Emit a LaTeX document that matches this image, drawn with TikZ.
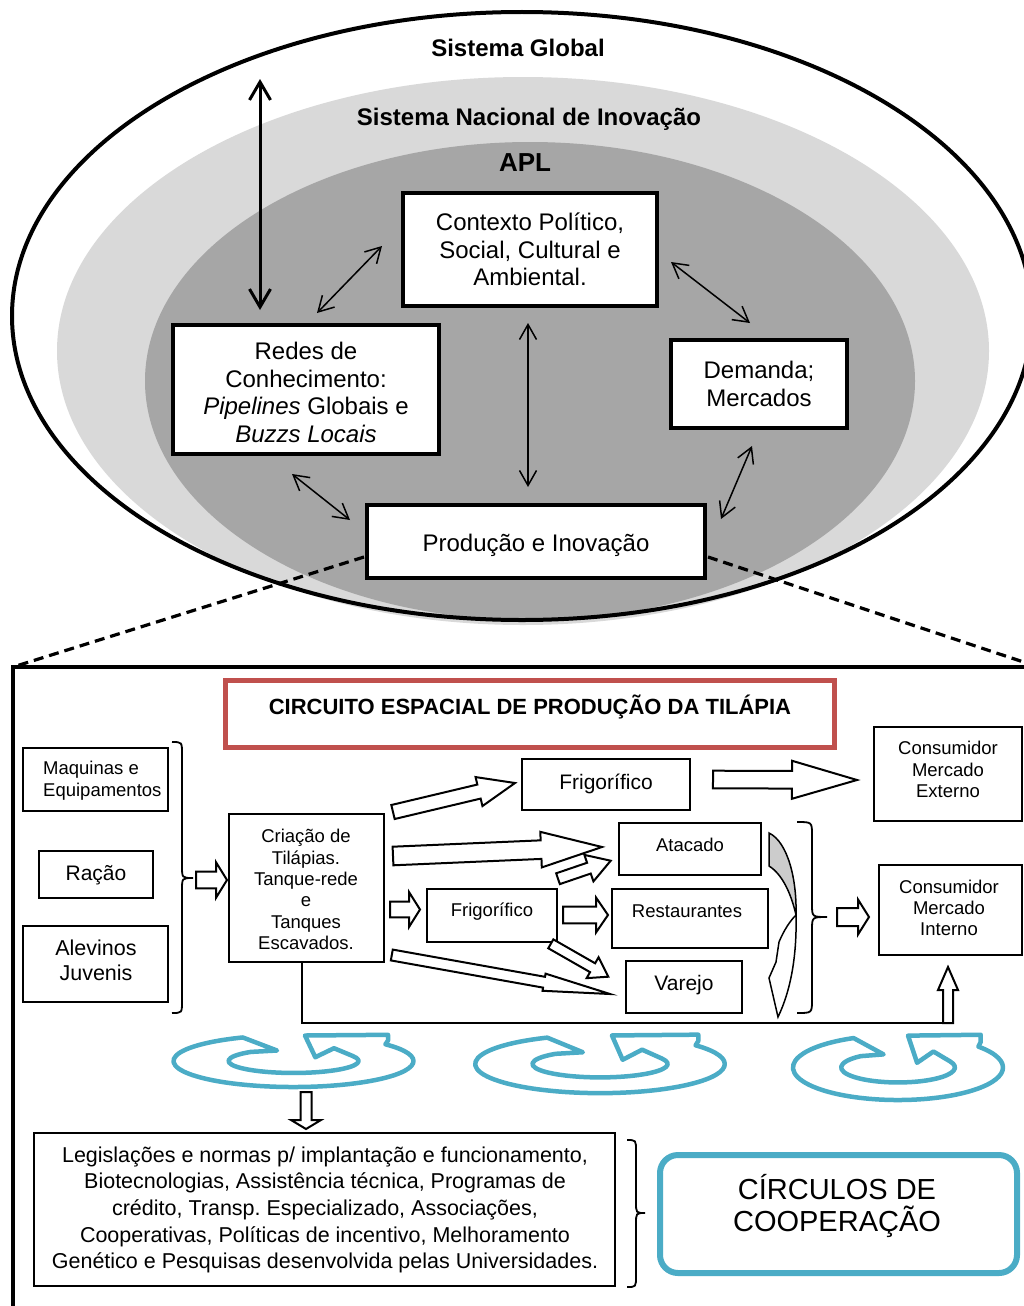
\documentclass[tikz,border=0pt]{standalone}
\usepackage{fontspec}
\setmainfont{Liberation Sans}
\usetikzlibrary{arrows.meta,calc}
\frenchspacing
\definecolor{lgray}{HTML}{D9D9D9}
\definecolor{dgray}{HTML}{A6A6A6}
\definecolor{redb}{HTML}{C0504D}
\definecolor{tealb}{HTML}{4BACC6}
\definecolor{cgray}{HTML}{CCCCCC}
\newcommand\fsz[2]{\fontsize{#1}{#2}\selectfont}
% hollow block arrow: tail coord, tip coord, shaft half width, head half width, head length
\newcommand\barrow[5]{%
 \draw[blockarrow] let \p1=(#1), \p2=(#2), \n1={atan2(\y2-\y1,\x2-\x1)}, \n2={veclen(\x2-\x1,\y2-\y1)-#5} in
  ($(\p1)+({\n1+90}:#3pt)$) -- ($(\p1)+(\n1:\n2)+({\n1+90}:#3pt)$) -- ($(\p1)+(\n1:\n2)+({\n1+90}:#4pt)$) -- (\p2) -- ($(\p1)+(\n1:\n2)+({\n1-90}:#4pt)$) -- ($(\p1)+(\n1:\n2)+({\n1-90}:#3pt)$) -- ($(\p1)+({\n1-90}:#3pt)$) -- cycle;}
% right curly brace: x0, xm, xtip, ytop, ytip, ybot, d
\newcommand\curlybr[7]{%
 \draw[bracestyle] (#1,#4) .. controls (#2,#4) .. (#2,#4+#7) -- (#2,#5-#7) .. controls (#2,#5) .. (#3,#5) .. controls (#2,#5) .. (#2,#5+#7) -- (#2,#6-#7) .. controls (#2,#6) .. (#1,#6);}
\tikzset{
 lbl/.style={anchor=base, inner sep=0pt},
 tbox/.style={draw, line width=4pt, fill=white, align=center, inner sep=0pt, font=\fsz{24}{27.5}},
 ttxt/.style={align=center, inner sep=0pt, font=\fsz{24}{27.5}},
 bbox/.style={draw, line width=2pt, fill=white, inner sep=0pt},
 btxt/.style={align=center, inner sep=0pt},
 thinarr/.style={line width=1.5pt, >={Straight Barb[length=15pt,width=17pt]}, <->},
 thickarr/.style={line width=3pt, >={Straight Barb[length=18pt,width=21pt]}, <->},
 blockarrow/.style={draw=black, fill=white, line width=2pt, line join=miter},
 dashline/.style={line width=3.2pt, dash pattern=on 10pt off 6pt},
 bracestyle/.style={line width=1.8pt},
 spiral/.pic={
  \draw[tealb, line width=4.5pt, fill=white, line join=round]
   (91.9,-16.7) arc[start angle=-40, end angle=245, x radius=120, y radius=26]
   -- (-16.5,-10.5) -- (-42.6,-9.1)
   arc[start angle=229, end angle=-24, x radius=65, y radius=12]
   -- (40.5,-12.8) -- (21.8,-3.8) -- (11.5,-25.5) -- (94.5,-26.2) -- (94.5,-20.5) -- cycle;
 }
}
\begin{document}
\begin{tikzpicture}[x=1pt,y=-1pt]
\useasboundingbox (0,0) rectangle (1024,1306);
\clip (0,0) rectangle (1024,1306);
\fill[white] (0,0) rectangle (1024,1306);

% ---------- upper part: nested systems ----------
\fill[lgray] (523,351) ellipse [x radius=466, y radius=274];
\fill[dgray] (530,381) ellipse [x radius=385, y radius=239];
\draw[line width=4pt] (522,316) ellipse [x radius=510, y radius=304];

\node[lbl, font=\bfseries\fsz{24}{28}] (sg) at (518,56.6) {Sistema Global};
\node[lbl, font=\bfseries\fsz{24}{28}] (sni) at (529,125) {Sistema Nacional de Inovação};
\node[lbl, font=\bfseries\fsz{26}{30}] (apl) at (525,171.5) {APL};

% dashed zoom lines and lower frame
\coordinate (dL) at (364,557);
\coordinate (dR) at (708,557);
\coordinate (rTL) at (13,667);
\coordinate (rTR) at (1034,665.5);
\draw[dashline] (dL) -- (rTL);
\draw[dashline] (dR) -- (rTR);
\draw[line width=4pt] (13,667) rectangle (1034,1340);

\node[tbox, minimum width=254pt, minimum height=113pt] (ctx) at (530,249.5) {Contexto Político,\\Social, Cultural e\\Ambiental.};
\node[tbox, minimum width=266pt, minimum height=129pt] (redes) at (306,389.5) {};
\node[ttxt] (redest) at (306,392.5) {Redes de\\Conhecimento:\\\textit{Pipelines} Globais e\\\textit{Buzzs Locais}};
\node[tbox, minimum width=176pt, minimum height=88pt] (dem) at (759,384) {Demanda;\\Mercados};
\node[tbox, minimum width=338pt, minimum height=73pt] (prod) at (536,541.5) {};
\node[lbl, font=\fsz{24}{27.5}] (prodt) at (536,551.6) {Produção e Inovação};

\coordinate (g1) at (260,79);   \coordinate (g2) at (260,310);
\coordinate (rc1) at (317,313); \coordinate (rc2) at (382,246);
\coordinate (cd1) at (671,262); \coordinate (cd2) at (750,323);
\coordinate (cp1) at (528,323); \coordinate (cp2) at (528,487);
\coordinate (rp1) at (292,474); \coordinate (rp2) at (350,520);
\coordinate (dp1) at (752,446); \coordinate (dp2) at (721,519);
\draw[thickarr] (g1) -- (g2);
\draw[thinarr] (rc1) -- (rc2);
\draw[thinarr] (cd1) -- (cd2);
\draw[thinarr] (cp1) -- (cp2);
\draw[thinarr] (rp1) -- (rp2);
\draw[thinarr] (dp1) -- (dp2);

% ---------- lower part: production circuit ----------
\node[draw=redb, line width=5pt, minimum width=609pt, minimum height=67pt, inner sep=0pt] (title) at (530,714) {};
\node[lbl, font=\bfseries\fsz{22}{26}] (titlet) at (530,714) {CIRCUITO ESPACIAL DE PRODUÇÃO DA TILÁPIA};

\node[bbox, minimum width=145pt, minimum height=63pt] (maq) at (95.5,779.5) {};
\node[btxt, anchor=west, align=left, font=\fsz{18.5}{22}] (maqt) at (43,781) {Maquinas e\\Equipamentos};
\node[bbox, minimum width=114pt, minimum height=47pt] (racao) at (96,874.5) {};
\node[lbl, font=\fsz{21}{24}] (racaot) at (96,880.5) {Ração};
\node[bbox, minimum width=145pt, minimum height=76pt] (alev) at (95.5,964) {};
\node[btxt, font=\fsz{21.5}{25}] (alevt) at (96,960.5) {Alevinos\\Juvenis};

\node[bbox, minimum width=155pt, minimum height=148pt] (cria) at (306.5,888) {};
\node[btxt, font=\fsz{18.5}{21.4}] (criat) at (306,889.5) {Criação de\\Tilápias.\\Tanque-rede\\e\\Tanques\\Escavados.};

\node[bbox, minimum width=168pt, minimum height=51pt] (frig1) at (606,784.5) {};
\node[lbl, font=\fsz{21}{24}] (frig1t) at (606,789.5) {Frigorífico};
\node[bbox, minimum width=142pt, minimum height=52pt] (atac) at (690,849) {};
\node[lbl, font=\fsz{18.5}{22}] (atact) at (690,851.5) {Atacado};
\node[bbox, minimum width=130pt, minimum height=53pt] (frig2) at (492,915.5) {};
\node[lbl, font=\fsz{18.5}{22}] (frig2t) at (492,916.5) {Frigorífico};
\node[bbox, minimum width=156pt, minimum height=59pt] (rest) at (690,918.5) {};
\node[lbl, font=\fsz{18.5}{22}] (restt) at (687,917) {Restaurantes};
\node[bbox, minimum width=116pt, minimum height=52pt] (varejo) at (684,987) {};
\node[lbl, font=\fsz{21}{24}] (varejot) at (684,990) {Varejo};

\node[bbox, minimum width=148pt, minimum height=94pt] (cext) at (948,774) {};
\node[btxt, font=\fsz{18.5}{21.5}] (cextt) at (948,769.5) {Consumidor\\Mercado\\Externo};
\node[bbox, minimum width=143pt, minimum height=90pt] (cint) at (950.5,910) {};
\node[btxt, font=\fsz{18.5}{21}] (cintt) at (949,908) {Consumidor\\Mercado\\Interno};

\node[bbox, minimum width=581pt, minimum height=153pt] (legis) at (324.5,1209.5) {};
\node[btxt, font=\fsz{21.5}{26.6}] (legist) at (325,1210) {Legislações e normas p/ implantação e funcionamento,\\Biotecnologias, Assistência técnica, Programas de\\crédito, Transp.\ Especializado, Associações,\\Cooperativas, Políticas de incentivo, Melhoramento\\Genético e Pesquisas desenvolvida pelas Universidades.};

\node[draw=tealb, line width=6pt, rounded corners=18pt, minimum width=357pt, minimum height=118pt, inner sep=0pt] (circ) at (838.5,1214) {};
\node[btxt, font=\fsz{29}{32}] (circt) at (837,1206) {CÍRCULOS DE\\COOPERAÇÃO};

% braces
\curlybr{172}{182}{193}{742}{878}{1013}{12}
\curlybr{797}{812}{827}{822}{917}{1013}{13}
\curlybr{627}{636}{645}{1140}{1213}{1287}{11}

% feedback line to internal market
\coordinate (fb1) at (302,963);
\coordinate (fb2) at (302,1023);
\coordinate (a11s) at (948,1023);
\draw[line width=2pt] (fb1) -- (fb2) -- (a11s);

% hollow arrows
\coordinate (a1s) at (196,880);     \coordinate (a1e) at (227,880);
\coordinate (a2s) at (393,812);     \coordinate (a2e) at (515,783);
\coordinate (a3s) at (393,856);     \coordinate (a3e) at (602,847);
\coordinate (a4s) at (558,878.7);   \coordinate (a4e) at (610.7,860.7);
\coordinate (a5s) at (390,909.5);   \coordinate (a5e) at (420,909.5);
\coordinate (a6s) at (563,915);     \coordinate (a6e) at (608,915);
\coordinate (a7s) at (550.8,943.8); \coordinate (a7e) at (608.3,976.7);
\coordinate (a8s) at (391.8,955);   \coordinate (a8e) at (610,994);
\coordinate (a9s) at (713,779.5);   \coordinate (a9e) at (857,780);
\coordinate (a10s) at (837,917);    \coordinate (a10e) at (869,917);
\coordinate (a11e) at (948,967);
\coordinate (a12s) at (306,1092);   \coordinate (a12e) at (306,1129);
\barrow{a1s}{a1e}{8.3}{17.8}{11}
\barrow{a2s}{a2e}{7.2}{14.9}{37}
\barrow{a3s}{a3e}{9.3}{17.8}{61}
\barrow{a4s}{a4e}{5.7}{14}{23}
\barrow{a5s}{a5e}{7.8}{17.5}{11}
\barrow{a6s}{a6e}{8.3}{17.5}{12}
\barrow{a7s}{a7e}{5.1}{12}{18}
\barrow{a8s}{a8e}{5.5}{8.7}{67}
\barrow{a9s}{a9e}{8.8}{19}{65}
\barrow{a10s}{a10e}{9}{17.5}{11}
\barrow{a11s}{a11e}{5}{10}{23}
\barrow{a12s}{a12e}{5.5}{15}{9}

% curved arrow beside the retail boxes
\draw[line width=1.5pt, fill=cgray] (769,833) .. controls (788,842) and (797,880) .. (796,915) .. controls (791,893) and (782,874) .. (769,866) -- cycle;
\draw[line width=1.5pt, fill=white] (796,915) .. controls (797,955) and (791,990) .. (778,1017) -- (769,978) -- (776,962) -- (779,942) .. controls (784,930) and (790,921) .. (796,915) -- cycle;

% cooperation circles
\pic at (293.5,1061) {spiral};
\pic[xscale=1.04, yscale=1.12] at (600,1064) {spiral};
\pic[xscale=0.875, yscale=1.25] at (898,1067.5) {spiral};
\end{tikzpicture}
\end{document}
